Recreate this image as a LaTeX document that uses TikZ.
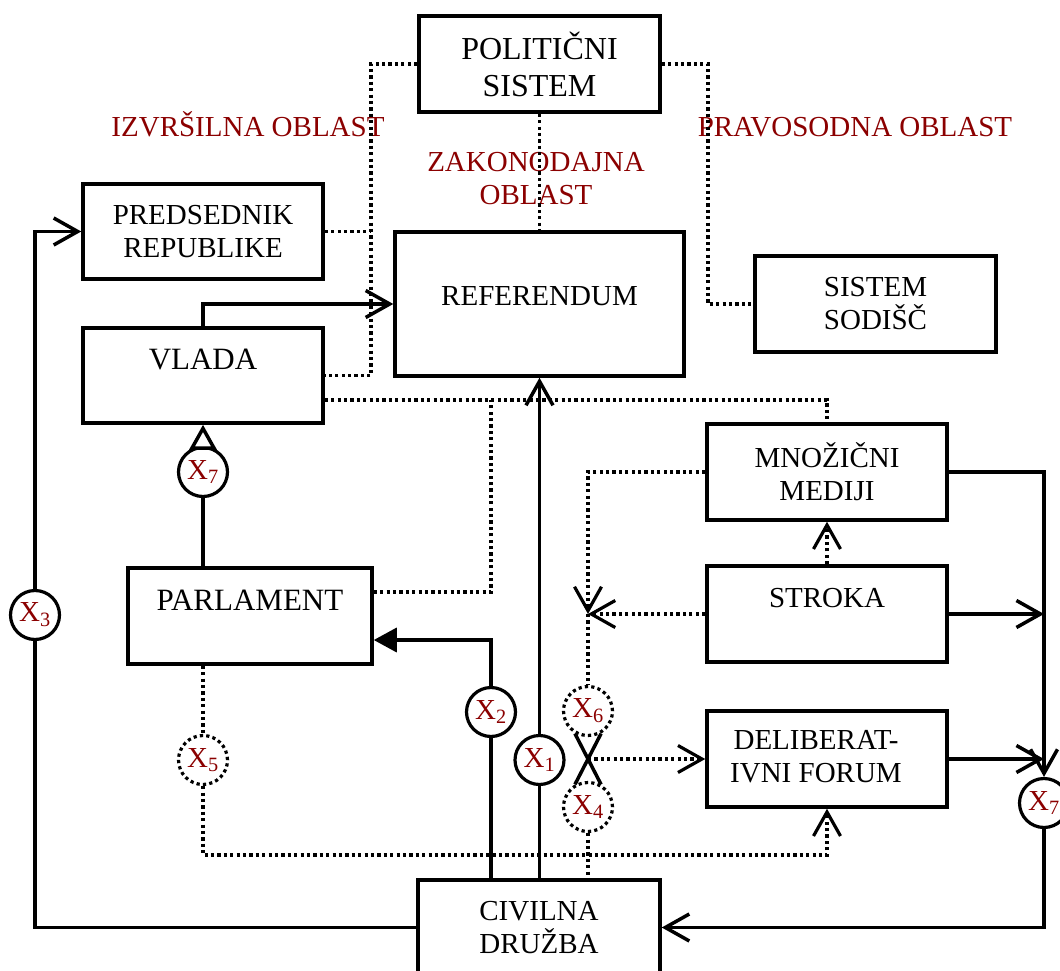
\documentclass[tikz,border=0pt]{standalone}
\usepackage{fontspec}
\setmainfont{Liberation Serif}
\usetikzlibrary{arrows.meta}
\definecolor{lbl}{RGB}{139,0,0}
\newcommand\xlab[1]{X\textsubscript{#1}}

\tikzset{
  solid line/.style={line width=3.5pt},
  dots/.style={line width=3.2pt, dash pattern=on 3.2pt off 3.2pt},
  box/.style={draw, line width=3.5pt, fill=white, inner sep=0pt, align=center,
    minimum width=240pt, minimum height=95pt, font=\fontsize{29}{33}\selectfont},
  xcirc/.style={circle, draw, line width=3.2pt, fill=white, minimum size=49pt,
    inner sep=0pt, text=lbl, font=\fontsize{29}{33}\selectfont},
  xdots/.style={xcirc, dash pattern=on 3.2pt off 3.2pt},
  lab/.style={text=lbl, inner sep=0pt, align=center, font=\fontsize{29}{33}\selectfont},
  barb/.style={-{Straight Barb[length=24pt,width=27pt]}},
  fulltri/.style={-{Triangle[length=23pt,width=24pt]}},
  opentri/.style={-{Triangle[open,length=25pt,width=27pt,fill=white]}},
}

\begin{document}
\begin{tikzpicture}[x=1pt,y=-1pt]
\useasboundingbox (0,0) rectangle (1060,971);
\clip (0,0) rectangle (1060,971);

% boxes
\node[box, minimum width=241pt, minimum height=96pt, font=\fontsize{32}{37}\selectfont]
  (pol) at (539.5,64) {POLITIČNI\\SISTEM};
\node[box] (pred) at (203,231.5) {PREDSEDNIK\\REPUBLIKE};
\node[box, font=\fontsize{31}{35}\selectfont, text height=20pt, text depth=33pt]
  (vlada) at (203,375.5) {VLADA};
\node[box, minimum width=289pt, minimum height=144pt, text height=19pt, text depth=17pt]
  (ref) at (539.5,304) {REFERENDUM};
\node[box, minimum width=241pt, minimum height=96pt] (sod) at (875.5,304) {SISTEM\\SODIŠČ};
\node[box, minimum height=96pt] (med) at (827,472) {MNOŽIČNI\\MEDIJI};
\node[box, minimum height=96pt, text height=19pt, text depth=33pt] (str) at (827,614) {STROKA};
\node[box, minimum height=96pt] (del) at (827,759)
  {\begin{tabular}{@{}c@{\hspace{22pt}}}DELIBERAT-\\IVNI FORUM\end{tabular}};
\node[box, minimum width=244pt, minimum height=96pt, font=\fontsize{31}{35}\selectfont,
  text height=20pt, text depth=32pt] (parl) at (250,616) {PARLAMENT};
\node[box, minimum width=242pt] (civ) at (539,927.5) {CIVILNA\\DRUŽBA};

% branch labels
\node[lab, anchor=base] (izv) at (248,137) {IZVRŠILNA OBLAST};
\node[lab] (zak) at (536,178.5) {ZAKONODAJNA\\OBLAST};
\node[lab, anchor=base] (prav) at (855,137) {PRAVOSODNA OBLAST};

% variable circles
\node[xcirc] (x1) at (539.5,760) {\xlab{1}};
\node[xcirc] (x2) at (491,712) {\xlab{2}};
\node[xcirc] (x3) at (35,615) {\xlab{3}};
\node[xdots] (x4) at (588,807) {\xlab{4}};
\node[xdots] (x5) at (203,760) {\xlab{5}};
\node[xdots] (x6) at (588,711) {\xlab{6}};
\node[xcirc] (x7l) at (203,472) {\xlab{7}};
\node[xcirc] (x7r) at (1044,803) {\xlab{7}};

% helper points
\coordinate (ex) at (371,375.5);
\coordinate (jd) at (708,304);
\coordinate (mt) at (827,400);
\coordinate (pv) at (491,400);
\coordinate (jn) at (588,614);
\coordinate (cr) at (588,759);
\coordinate (bot) at (827,855);
\coordinate (rtop) at (1044,472);

% political system branches
\draw[dots] (pol.west) -| (ex) -- (vlada.east);
\draw[dots] (pred.east) -- (pred.east -| ex);
\draw[dots] (pol.south) -- (ref.north);
\draw[dots] (pol.east) -| (jd) -- (sod.west);

% dotted links to the media
\draw[dots] ([yshift=-24.5pt]vlada.east) -- (mt) -- (med.north);
\draw[dots] ([yshift=24pt]parl.east) -| (pv);
\draw[dots, barb] (str.north) -- (med.south);
\draw[dots, barb] (med.west) -| (jn);
\draw[dots, barb] (str.west) -- (jn);
\draw[dots] (jn) -- (x6.north);

% crossing of X6 and X4 into the forum
\draw[solid line] (x6.-120) -- (x4.60);
\draw[solid line] (x6.-60) -- (x4.120);
\draw[dots, barb] (cr) -- (del.west);
\draw[dots] (x4.south) -- (x4 |- civ.north);

% X5 path into the forum
\draw[dots] (x5 |- parl.south) -- (x5.north);
\draw[dots, barb] (x5.south) |- (bot) -- (del.south);

% solid connectors
\draw[solid line, barb] (vlada.north) |- (ref.west);
\draw[solid line] (x1 |- civ.north) -- (x1.south);
\draw[solid line, barb] (x1.north) -- (ref.south);
\draw[solid line] (x2 |- civ.north) -- (x2.south);
\draw[solid line, fulltri] (x2.north) |- ([yshift=-24pt]parl.east);
\draw[solid line] (x7l |- parl.north) -- (x7l.south);
\draw[solid line, opentri] (x7l.north) -- (vlada.south);
\draw[solid line] (civ.west) -| (x3.south);
\draw[solid line, barb] (x3.north) |- (pred.west);

% right-hand feedback loop
\draw[solid line, barb] (med.east) -- (rtop) -- (x7r.north);
\draw[solid line, barb] (str.east) -- (str.east -| rtop);
\draw[solid line, barb] (del.east) -- (del.east -| rtop);
\draw[solid line, barb] (x7r.south) |- (civ.east);
\end{tikzpicture}
\end{document}
